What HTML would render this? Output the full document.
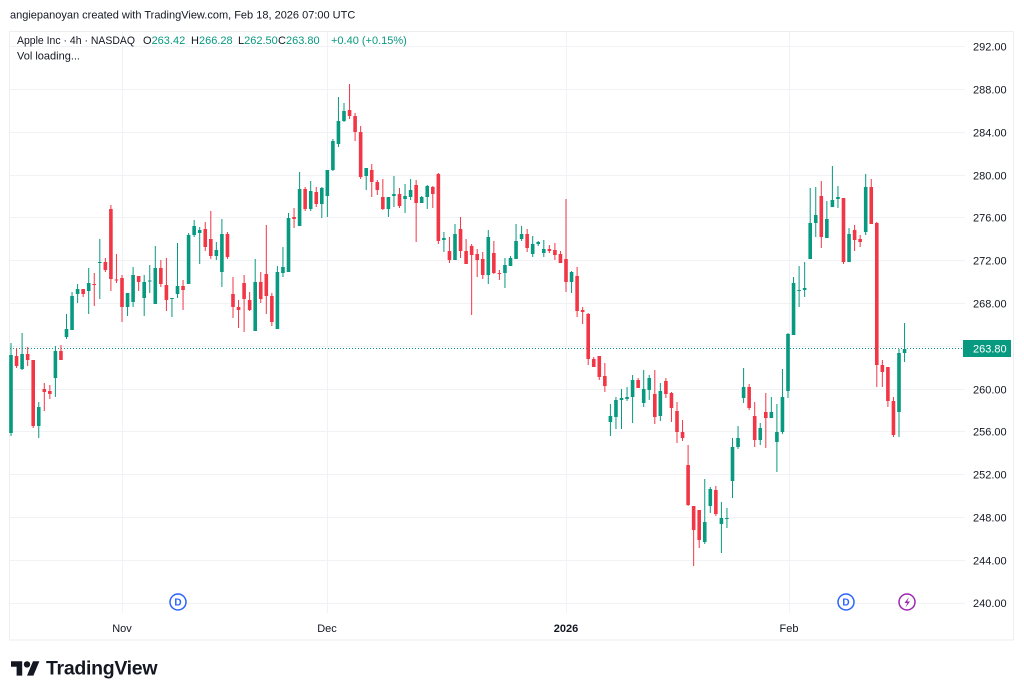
<!DOCTYPE html>
<html>
<head>
<meta charset="utf-8">
<style>
html,body{margin:0;padding:0;background:#fff;}
svg{display:block;}
text{font-family:"Liberation Sans",Arial,sans-serif;}
</style>
</head>
<body>
<svg width="1024" height="696" viewBox="0 0 1024 696" xmlns="http://www.w3.org/2000/svg">
<rect width="1024" height="696" fill="#fff"/>
<!-- header -->
<text x="10" y="18.5" font-size="11" fill="#131722">angiepanoyan created with TradingView.com, Feb 18, 2026 07:00 UTC</text>
<!-- frame -->
<rect x="9.5" y="31.5" width="1004" height="608.5" fill="none" stroke="#eceef2" stroke-width="1"/>
<!-- grid -->
<g stroke="#f0f2f5" stroke-width="1">
<path d="M10 46.5H965M10 89.5H965M10 132.5H965M10 175.5H965M10 217.5H965M10 260.5H965M10 303.5H965M10 346.5H965M10 389.5H965M10 431.5H965M10 474.5H965M10 517.5H965M10 560.5H965M10 603.5H965"/>
<path d="M122.5 32V613M327.5 32V613M566.5 32V613M789.5 32V613"/>
</g>
<!-- legend -->
<g font-size="11">
<text x="17" y="44" fill="#131722" textLength="118" lengthAdjust="spacingAndGlyphs">Apple Inc · 4h · NASDAQ</text>
<text x="143" y="44" fill="#131722">O<tspan fill="#089981">263.42</tspan></text>
<text x="191" y="44" fill="#131722">H<tspan fill="#089981">266.28</tspan></text>
<text x="238" y="44" fill="#131722">L<tspan fill="#089981">262.50</tspan></text>
<text x="278" y="44" fill="#131722">C<tspan fill="#089981">263.80</tspan></text>
<text x="331" y="44" fill="#089981">+0.40 (+0.15%)</text>
<text x="17" y="59.5" fill="#131722">Vol loading...</text>
</g>
<!-- price axis labels -->
<g font-size="11" fill="#131722">
<text x="973" y="50.5">292.00</text>
<text x="973" y="93.5">288.00</text>
<text x="973" y="136.5">284.00</text>
<text x="973" y="179.5">280.00</text>
<text x="973" y="221.5">276.00</text>
<text x="973" y="264.5">272.00</text>
<text x="973" y="307.5">268.00</text>
<text x="973" y="393.5">260.00</text>
<text x="973" y="435.5">256.00</text>
<text x="973" y="478.5">252.00</text>
<text x="973" y="521.5">248.00</text>
<text x="973" y="564.5">244.00</text>
<text x="973" y="607">240.00</text>
</g>
<!-- time axis labels -->
<g font-size="11" fill="#131722" text-anchor="middle">
<text x="122" y="632">Nov</text>
<text x="327" y="632">Dec</text>
<text x="566" y="632" font-weight="bold">2026</text>
<text x="789" y="632">Feb</text>
</g>
<!-- current price line -->
<path d="M10 348.5H963" stroke="#089981" stroke-width="1" stroke-dasharray="1 2"/>
<!-- candles: green -->
<g fill="none" stroke="#089981" stroke-width="1">
<path d="M11 343V436M22.1 333V370M38.75 402V438M55.4 346V397M66.5 314V339M72.05 292V330M77.6 284V303M88.7 268V314M99.8 239V299M127.55 293V316M133.1 267V307M144.2 275V316M149.75 265V293M155.3 246V304M171.95 298V317M177.5 243V298M188.6 233V284M194.15 220V237M199.7 227V264M216.35 242V260M221.9 219V287M255.2 259V331M277.4 266V329M282.95 247V277M288.5 213V272M299.6 172V226M310.7 181V211M321.8 187V218M327.35 170V217M332.9 139V171M338.45 97V147M344 103V122M366.2 168V190M388.4 197V217M393.95 176V207M405.05 184V213M410.6 179V200M421.7 196V203M427.25 185V209M443.9 232V252M455 224V260M488.3 230V284M504.95 258V288M510.5 256V266M516.05 224V259M521.6 226V241M532.7 236V257M538.25 241V246M543.8 240V257M571.55 271V293M610.4 404V436M615.95 397V429M621.5 389V429M627.05 387V401M632.6 375V423M643.7 370V407M649.25 375V400M660.35 383V421M704.75 479V544M710.3 487V513M721.4 502V553M726.95 508V528M732.5 438V498M738.05 426V449M743.6 368V403M760.25 423V445M771.35 397V418M776.9 404V472M782.45 369V434M788 333V398M793.55 277V335M799.1 266V307M804.65 262V297M810.2 188V259M815.75 187V237M826.85 201V238M832.4 166V207M837.95 186V208M849.05 228V262M865.7 174V235M899 349V437M904.55 323V362"/>
</g>
<path fill="#089981" d="M9.2 355h3.6V433h-3.6Z M20.3 354h3.6V369h-3.6Z M36.95 407h3.6V426h-3.6Z M53.6 351h3.6V378h-3.6Z M64.7 329h3.6V337h-3.6Z M70.25 296h3.6V330h-3.6Z M75.8 289h3.6V294h-3.6Z M86.9 283h3.6V291h-3.6Z M98 262h3.6V263h-3.6Z M125.75 293h3.6V307h-3.6Z M131.3 275h3.6V302h-3.6Z M142.4 282h3.6V298h-3.6Z M147.95 280.5h3.6V281.5h-3.6Z M153.5 268h3.6V304h-3.6Z M170.15 298h3.6V299h-3.6Z M175.7 286h3.6V294h-3.6Z M186.8 235h3.6V284h-3.6Z M192.35 226h3.6V235h-3.6Z M197.9 230h3.6V233h-3.6Z M214.55 250h3.6V256h-3.6Z M220.1 234h3.6V272h-3.6Z M253.4 282h3.6V331h-3.6Z M275.6 272h3.6V329h-3.6Z M281.15 267h3.6V273h-3.6Z M286.7 218h3.6V272h-3.6Z M297.8 189h3.6V226h-3.6Z M308.9 191h3.6V209h-3.6Z M320 188h3.6V204h-3.6Z M325.55 170h3.6V196h-3.6Z M331.1 141h3.6V170h-3.6Z M336.65 121h3.6V144h-3.6Z M342.2 111h3.6V121h-3.6Z M364.4 168h3.6V176h-3.6Z M386.6 197h3.6V209h-3.6Z M392.15 194h3.6V196h-3.6Z M403.25 196h3.6V199h-3.6Z M408.8 190h3.6V197h-3.6Z M419.9 197h3.6V203h-3.6Z M425.45 186h3.6V197h-3.6Z M442.1 238h3.6V240h-3.6Z M453.2 234h3.6V260h-3.6Z M486.5 237h3.6V275h-3.6Z M503.15 265h3.6V273h-3.6Z M508.7 258h3.6V266h-3.6Z M514.25 241h3.6V259h-3.6Z M519.8 234h3.6V239h-3.6Z M530.9 244h3.6V254h-3.6Z M536.45 242h3.6V244h-3.6Z M542 249h3.6V253h-3.6Z M569.75 272h3.6V282h-3.6Z M608.6 416h3.6V422h-3.6Z M614.15 400h3.6V417h-3.6Z M619.7 398h3.6V400h-3.6Z M625.25 397h3.6V399h-3.6Z M630.8 380h3.6V397h-3.6Z M641.9 389h3.6V403h-3.6Z M647.45 378h3.6V390h-3.6Z M658.55 391h3.6V416h-3.6Z M702.95 522h3.6V542h-3.6Z M708.5 489h3.6V506h-3.6Z M719.6 518h3.6V524h-3.6Z M725.15 518h3.6V519h-3.6Z M730.7 447h3.6V481h-3.6Z M736.25 438h3.6V447h-3.6Z M741.8 387h3.6V398h-3.6Z M758.45 428h3.6V440h-3.6Z M769.55 412h3.6V418h-3.6Z M775.1 432h3.6V442h-3.6Z M780.65 397h3.6V432h-3.6Z M786.2 334h3.6V391h-3.6Z M791.75 283h3.6V335h-3.6Z M797.3 290h3.6V291h-3.6Z M802.85 288h3.6V290h-3.6Z M808.4 223h3.6V259h-3.6Z M813.95 215h3.6V223h-3.6Z M825.05 219h3.6V238h-3.6Z M830.6 200h3.6V207h-3.6Z M836.15 197h3.6V199h-3.6Z M847.25 234h3.6V262h-3.6Z M863.9 187h3.6V232h-3.6Z M897.2 353h3.6V412h-3.6Z M902.75 349h3.6V353h-3.6Z"/>
<!-- candles: red -->
<g fill="none" stroke="#f23645" stroke-width="1">
<path d="M16.55 348V368M27.65 347V366M33.2 360V428M44.3 383V411M49.85 385V399M60.95 345V360M83.15 289V297M94.25 273V306M105.35 258V272M110.9 205V291M116.45 254V283M122 275V322M138.65 276V291M160.85 260V287M166.4 258V311M183.05 280V310M205.25 222V251M210.8 211V259M227.45 232V259M233 277V318M238.55 300V328M244.1 275V332M249.65 292V311M260.75 272V303M266.3 225V314M271.85 293V326M294.05 208V228M305.15 187V211M316.25 187V207M349.55 84V119M355.1 113V141M360.65 126V179M371.75 164V197M377.3 180V195M382.85 179V210M399.5 188V208M416.15 180V242M432.8 186V208M438.35 173V244M449.45 237V263M460.55 217V258M466.1 239V264M471.65 244V315M477.2 249V277M482.75 252V279M493.85 241V274M499.4 270V280M527.15 229V252M549.35 245V253M554.9 243V260M560.45 251V263M566 199V292M577.1 267V317M582.65 307V324M588.2 313V365M593.75 357V367M599.3 356V380M604.85 363V392M638.15 378V388M654.8 370V424M665.9 378V398M671.45 392V422M677 402V443M682.55 420V441M688.1 445V506M693.65 506V566M699.2 510V548M715.85 486V516M749.15 384V410M754.7 402V447M765.8 393V448M821.3 181V248M843.5 198V264M854.6 225V251M860.15 235V247M871.25 179V224M876.8 222V387M882.35 360V387M887.9 367V407M893.45 397V437"/>
</g>
<path fill="#f23645" d="M14.75 356h3.6V366h-3.6Z M25.85 354h3.6V360h-3.6Z M31.4 360h3.6V426h-3.6Z M42.5 389h3.6V392h-3.6Z M48.05 391h3.6V394h-3.6Z M59.15 351h3.6V360h-3.6Z M81.35 289h3.6V294h-3.6Z M92.45 284h3.6V285h-3.6Z M103.55 262h3.6V270h-3.6Z M109.1 209h3.6V279h-3.6Z M114.65 279.5h3.6V280.5h-3.6Z M120.2 278h3.6V307h-3.6Z M136.85 276h3.6V282h-3.6Z M159.05 268h3.6V284h-3.6Z M164.6 285h3.6V300h-3.6Z M181.25 286h3.6V290h-3.6Z M203.45 229h3.6V247h-3.6Z M209 239h3.6V256h-3.6Z M225.65 234h3.6V257h-3.6Z M231.2 294h3.6V307h-3.6Z M236.75 307h3.6V310h-3.6Z M242.3 283h3.6V299h-3.6Z M247.85 300h3.6V310h-3.6Z M258.95 282h3.6V299h-3.6Z M264.5 274h3.6V296h-3.6Z M270.05 296h3.6V322h-3.6Z M292.25 217h3.6V219h-3.6Z M303.35 189h3.6V209h-3.6Z M314.45 192h3.6V204h-3.6Z M347.75 110h3.6V116h-3.6Z M353.3 116h3.6V132h-3.6Z M358.85 132h3.6V177h-3.6Z M369.95 170h3.6V182h-3.6Z M375.5 182h3.6V190h-3.6Z M381.05 197h3.6V209h-3.6Z M397.7 194h3.6V206h-3.6Z M414.35 185h3.6V203h-3.6Z M431 187h3.6V194h-3.6Z M436.55 174h3.6V241h-3.6Z M447.65 251h3.6V260h-3.6Z M458.75 229h3.6V251h-3.6Z M464.3 251h3.6V264h-3.6Z M469.85 246h3.6V255h-3.6Z M475.4 254h3.6V260h-3.6Z M480.95 259h3.6V275h-3.6Z M492.05 253h3.6V273h-3.6Z M497.6 273h3.6V274h-3.6Z M525.35 234h3.6V248h-3.6Z M547.55 249h3.6V251h-3.6Z M553.1 250h3.6V255h-3.6Z M558.65 254h3.6V263h-3.6Z M564.2 259h3.6V282h-3.6Z M575.3 276h3.6V311h-3.6Z M580.85 310h3.6V312h-3.6Z M586.4 314h3.6V359h-3.6Z M591.95 359h3.6V367h-3.6Z M597.5 356h3.6V377h-3.6Z M603.05 376h3.6V386h-3.6Z M636.35 380h3.6V388h-3.6Z M653 394h3.6V417h-3.6Z M664.1 381h3.6V394h-3.6Z M669.65 393h3.6V408h-3.6Z M675.2 411h3.6V432h-3.6Z M680.75 432h3.6V438h-3.6Z M686.3 465h3.6V505h-3.6Z M691.85 506h3.6V530h-3.6Z M697.4 510h3.6V540h-3.6Z M714.05 490h3.6V514h-3.6Z M747.35 387h3.6V408h-3.6Z M752.9 416h3.6V440h-3.6Z M764 412h3.6V418h-3.6Z M819.5 196h3.6V237h-3.6Z M841.7 198h3.6V262h-3.6Z M852.8 230h3.6V240h-3.6Z M858.35 239h3.6V242h-3.6Z M869.45 187h3.6V224h-3.6Z M875 223h3.6V365h-3.6Z M880.55 365h3.6V372h-3.6Z M886.1 367h3.6V401h-3.6Z M891.65 401h3.6V435h-3.6Z"/>
<!-- current price label -->
<rect x="963" y="340" width="48" height="17" fill="#089981"/>
<text x="973" y="352.5" font-size="11" fill="#ffffff">263.80</text>
<!-- markers -->
<g fill="#fff" stroke="#2962ff" stroke-width="1.5">
<circle cx="178" cy="602" r="8"/>
<circle cx="846" cy="602" r="8"/>
</g>
<g font-size="10" font-weight="bold" fill="#2962ff" text-anchor="middle">
<text x="178" y="605.5">D</text>
<text x="846" y="605.5">D</text>
</g>
<circle cx="907" cy="602" r="8" fill="#fff" stroke="#9c27b0" stroke-width="1.5"/>
<path d="M909 597L904.5 603H907.3L905.5 607.5L910 601.5H907.2Z" fill="#9c27b0"/>
<!-- TradingView logo -->
<g transform="translate(11,658) scale(0.8)" fill="#131722">
<path d="M14 22H7V11H0V4h14v18zM28 22h-8l7.5-18h8L28 22z"/>
<circle cx="20" cy="8" r="4"/>
</g>
<text x="46" y="674.5" font-size="19.5" font-weight="bold" fill="#131722" letter-spacing="-0.3">TradingView</text>
</svg>
</body>
</html>
